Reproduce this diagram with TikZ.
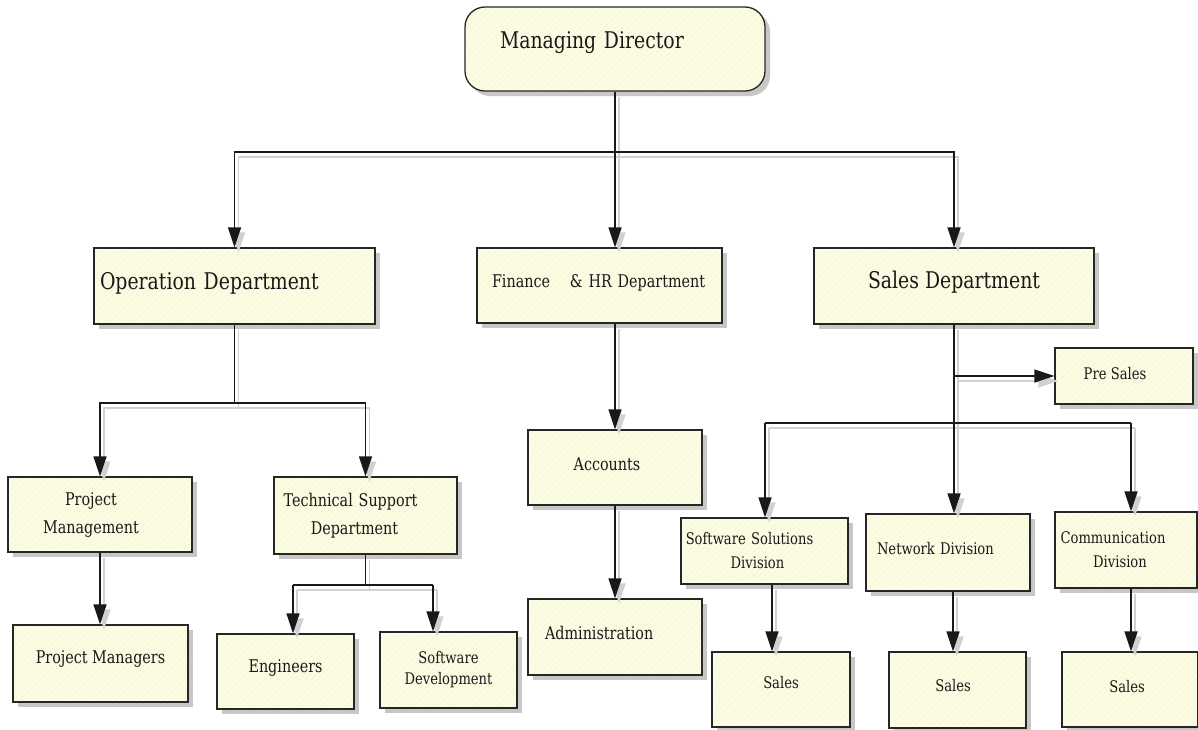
\documentclass[tikz,border=0pt]{standalone}
\usepackage{fontspec}
\setmainfont{DejaVu Serif}[FakeStretch=0.82]
\usetikzlibrary{arrows.meta,shadows,patterns.meta}
\definecolor{cream}{HTML}{FCFCE2}
\definecolor{hatch}{HTML}{F1F1D6}
\newcommand\bigf{\fontsize{23}{27}\selectfont}
\newcommand\medf{\fontsize{17.5}{28}\selectfont}
\newcommand\smf{\fontsize{16}{24}\selectfont}
\newcommand\up[2]{\raisebox{#1}[\height][\depth]{#2}}
\newcommand\conn[2][]{\draw[lshadow,#1]#2;\draw[line,#1]#2;}
\tikzset{
  x=1pt,y=-1pt,
  box/.style={
    drop shadow={shadow xshift=5pt,shadow yshift=-5pt,fill=black!22,opacity=1},
    preaction={fill=cream},
    preaction={pattern={Lines[angle=45,distance=4pt,line width=0.6pt]},pattern color=hatch},
    draw=black!85, line width=1.3pt,
    inner ysep=0pt, text=black!90},
  sz/.style 2 args={minimum width=#1pt, minimum height=#2pt},
  lbox/.style 2 args={align=left, inner xsep=#1pt, text width=#2pt},
  cbox/.style={align=center, inner xsep=2pt},
  line/.style={draw=black!90, line width=1.6pt},
  lshadow/.style={draw=black!18, line width=1.6pt, transform canvas={shift={(4pt,-5pt)}}},
  arr/.style={-{Triangle[length=20pt,width=13pt]}},
}
\begin{document}
\begin{tikzpicture}
\useasboundingbox[fill=white] (0,0) rectangle (1198,729);

% level 0
\node[box, rounded corners=20pt, sz={300}{84}, lbox={35}{230}, font=\bigf] (md) at (615,49) {\up{6pt}{Managing Director}};

% level 1
\node[box, sz={281}{76}, lbox={6}{269}, font=\bigf] (ops) at (234.5,286) {\up{3pt}{Operation Department}};
\node[box, sz={245}{75}, lbox={15}{215}, font=\medf] (fin) at (599.5,285.5) {\up{3pt}{Finance\hspace{14pt} \& HR Department}};
\node[box, sz={280}{76}, cbox, font=\bigf] (sales) at (954,286) {\up{4pt}{Sales Department}};

% operation branch
\node[box, sz={184}{75}, cbox, text width=150pt, font=\medf] (pm) at (100,514.5) {Project\hspace{18pt}\mbox{}\\Management\hspace{18pt}\mbox{}};
\node[box, sz={183}{77}, cbox, text width=170pt, font=\medf] (ts) at (365.5,515.5) {Technical Support\hspace{30pt}\mbox{}\\Department\hspace{22pt}\mbox{}};
\node[box, sz={175}{77}, cbox, font=\medf] (pmgr) at (100.5,663.5) {\up{5pt}{Project Managers}};
\node[box, sz={137}{75}, cbox, font=\medf] (eng) at (285.5,671.5) {\up{4pt}{Engineers}};
\node[box, sz={137}{76}, cbox, text width=130pt, font=\smf, execute at begin node={\baselineskip=21pt}] (swdev) at (448.5,670) {Software\\Development};

% finance branch
\node[box, sz={174}{75}, cbox, font=\medf] (acc) at (615,467.5) {\up{3pt}{Accounts\hspace{16pt}\mbox{}}};
\node[box, sz={174}{76}, lbox={17}{140}, font=\medf] (adm) at (615,637) {\up{4pt}{Administration}};

% sales branch
\node[box, sz={138}{56}, cbox, font=\smf] (pre) at (1124,376) {\up{2pt}{Pre Sales\hspace{18pt}\mbox{}}};
\node[box, sz={167}{66}, cbox, text width=160pt, font=\smf] (swsol) at (764.5,551) {Software Solutions\hspace{30pt}\mbox{}\\Division\hspace{14pt}\mbox{}};
\node[box, sz={164}{77}, lbox={11}{142}, font=\smf] (net) at (948,552.5) {\up{4pt}{Network Division}};
\node[box, sz={142}{76}, cbox, text width=138pt, font=\smf] (comm) at (1126,550) {Communication\hspace{26pt}\mbox{}\\Division\hspace{12pt}\mbox{}};
\node[box, sz={138}{75}, cbox, font=\smf] (s1) at (781,689.5) {\up{7pt}{Sales}};
\node[box, sz={137}{76}, cbox, font=\smf] (s2) at (957.5,690) {\up{4pt}{Sales\hspace{9pt}\mbox{}}};
\node[box, sz={136}{75}, cbox, font=\smf] (s3) at (1130,689.5) {\up{3pt}{Sales\hspace{6pt}\mbox{}}};

% junctions
\coordinate (j1) at (615,152);
\coordinate (j2) at (234.5,403);
\coordinate (j3) at (365.5,585);
\coordinate (eA) at (293,585);
\coordinate (sA) at (433,585);
\coordinate (j4) at (954,423);
\coordinate (pj) at (954,376);
\coordinate (sw) at (765,423);
\coordinate (cm) at (1131,423);
\coordinate (b1) at (772,600);
\coordinate (b2) at (953,600);
\coordinate (b3) at (1131,600);

% connectors
\conn{(md.south) -- (j1)}
\conn[arr]{(j1) -| (ops.north)}
\conn[arr]{(j1) -| (sales.north)}
\conn[arr]{(j1) -- (j1 |- fin.north)}

\conn{(ops.south) -- (j2)}
\conn[arr]{(j2) -| (pm.north)}
\conn[arr]{(j2) -| (ts.north)}
\conn[arr]{(pm.south) -- (pm.south |- pmgr.north)}

\conn{(ts.south) -- (j3)}
\conn{(eA) -- (sA)}
\conn[arr]{(eA) -- (eA |- eng.north)}
\conn[arr]{(sA) -- (sA |- swdev.north)}

\conn[arr]{(acc.north |- fin.south) -- (acc.north)}
\conn[arr]{(acc.south) -- (adm.north)}

\conn{(sales.south) -- (j4)}
\conn[arr]{(pj) -- (pre.west)}
\conn{(sw) -- (cm)}
\conn[arr]{(sw) -- (sw |- swsol.north)}
\conn[arr]{(j4) -- (j4 |- net.north)}
\conn[arr]{(cm) -- (cm |- comm.north)}
\conn[arr]{(b1 |- swsol.south) -- (b1 |- s1.north)}
\conn[arr]{(b2 |- net.south) -- (b2 |- s2.north)}
\conn[arr]{(b3 |- comm.south) -- (b3 |- s3.north)}
\end{tikzpicture}
\end{document}
